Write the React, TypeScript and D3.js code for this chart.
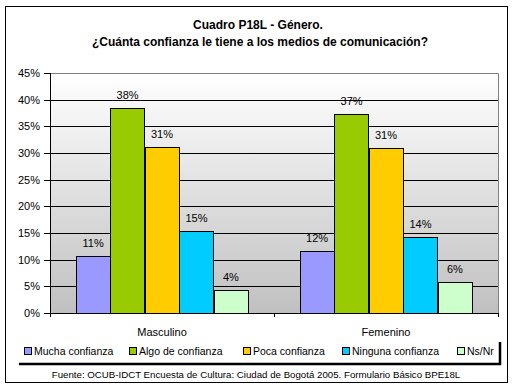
import * as d3 from "d3";

const categories = ["Masculino", "Femenino"];
const seriesNames = [
  "Mucha confianza",
  "Algo de confianza",
  "Poca confianza",
  "Ninguna confianza",
  "Ns/Nr",
];
// one array per series: [Masculino, Femenino]
const mucha = [0.107, 0.116];
const algo = [0.384, 0.374];
const poca = [0.312, 0.309];
const ninguna = [0.153, 0.142];
const nsnr = [0.043, 0.059];
const yTicks = [0, 0.05, 0.1, 0.15, 0.2, 0.25, 0.3, 0.35, 0.4, 0.45];

const seriesValues = [mucha, algo, poca, ninguna, nsnr];
const colors = ["#9999ff", "#99cc00", "#ffcc00", "#00ccff", "#ccffcc"];

const W = 515;
const H = 391;
const plot = { left: 50, right: 498, top: 73, bottom: 313 };
const FONT = "'Liberation Sans', Arial, sans-serif";

const App = () => {
  const x0 = d3
    .scaleBand()
    .domain(categories)
    .range([plot.left, plot.right]);
  // gap width 150% of a bar -> 6.5 bar units per category
  const inner = x0.bandwidth() * (5 / 6.5);
  const x1 = d3
    .scaleBand()
    .domain(seriesNames)
    .range([0, inner])
    .padding(0);
  const y = d3.scaleLinear().domain([0, 0.45]).range([plot.bottom, plot.top]);
  const pct = d3.format(".0%");

  const legendX = [24, 129, 243, 342, 457];

  return (
    <svg
      width={W}
      height={H}
      style={{ position: "absolute", left: 0, top: 0, fontFamily: FONT }}
    >
      <defs>
        <linearGradient id="bg" x1="0" y1="0" x2="0" y2="1">
          <stop offset="0%" stopColor="#ffffff" />
          <stop offset="100%" stopColor="#c0c0c0" />
        </linearGradient>
      </defs>
      <rect x={0} y={0} width={W} height={H} fill="#fff" />
      <rect x={5.5} y={6.5} width={502} height={376} fill="#fff" stroke="#000" />

      <text x={258} y={29} textAnchor="middle" fontSize={12} fontWeight="bold">
        Cuadro P18L - Género.
      </text>
      <text x={260} y={46} textAnchor="middle" fontSize={12} fontWeight="bold">
        ¿Cuánta confianza le tiene a los medios de comunicación?
      </text>

      {/* plot area */}
      <rect
        x={plot.left}
        y={plot.top}
        width={plot.right - plot.left}
        height={plot.bottom - plot.top}
        fill="url(#bg)"
      />
      <path
        d={`M${plot.left},${plot.top + 0.5}H${plot.right + 0.5}V${plot.bottom}`}
        fill="none"
        stroke="#808080"
      />
      {yTicks.slice(1, -1).map((t) => (
        <line
          key={t}
          x1={plot.left}
          x2={plot.right}
          y1={Math.round(y(t)) + 0.5}
          y2={Math.round(y(t)) + 0.5}
          stroke="#000"
        />
      ))}

      {seriesValues.map((vals, si) =>
        categories.map((c, ci) => {
          const bx = (x0(c) ?? 0) + (x0.bandwidth() - inner) / 2 + (x1(seriesNames[si]) ?? 0);
          const top = y(vals[ci]);
          return (
            <g key={`${si}-${ci}`}>
              <rect
                x={Math.round(bx) + 0.5}
                y={Math.round(top) + 0.5}
                width={Math.round(x1.bandwidth())}
                height={Math.round(plot.bottom - top)}
                fill={colors[si]}
                stroke="#000"
              />
              <text
                x={bx + x1.bandwidth() / 2}
                y={top - 9}
                textAnchor="middle"
                fontSize={11}
              >
                {pct(vals[ci])}
              </text>
            </g>
          );
        })
      )}

      {/* axes */}
      <line x1={plot.left + 0.5} x2={plot.left + 0.5} y1={plot.top} y2={plot.bottom + 4} stroke="#000" />
      <line x1={plot.left} x2={plot.right + 1} y1={plot.bottom + 0.5} y2={plot.bottom + 0.5} stroke="#000" />
      {yTicks.map((t) => (
        <g key={t}>
          <line
            x1={plot.left - 6}
            x2={plot.left}
            y1={Math.round(y(t)) + 0.5}
            y2={Math.round(y(t)) + 0.5}
            stroke="#000"
          />
          <text x={40} y={y(t) + 4} textAnchor="end" fontSize={11}>
            {pct(t)}
          </text>
        </g>
      ))}
      {[plot.left, plot.left + x0.bandwidth(), plot.right].map((px) => (
        <line
          key={px}
          x1={Math.round(px) + 0.5}
          x2={Math.round(px) + 0.5}
          y1={plot.bottom}
          y2={plot.bottom + 4}
          stroke="#000"
        />
      ))}
      {categories.map((c) => (
        <text
          key={c}
          x={(x0(c) ?? 0) + x0.bandwidth() / 2}
          y={336}
          textAnchor="middle"
          fontSize={11}
        >
          {c}
        </text>
      ))}

      {/* legend with shadow */}
      <path d="M500,342V364H19" fill="none" stroke="#000" strokeWidth={2.5} />
      {seriesNames.map((s, i) => (
        <g key={s}>
          <rect x={legendX[i] + 0.5} y={347.5} width={7} height={7} fill={colors[i]} stroke="#000" />
          <text x={legendX[i] + 10} y={355} fontSize={10.5}>
            {s}
          </text>
        </g>
      ))}

      <text x={256} y={378} textAnchor="middle" fontSize={9.7}>
        Fuente: OCUB-IDCT Encuesta de Cultura: Ciudad de Bogotá 2005. Formulario Básico BPE18L
      </text>
    </svg>
  );
};

export default App;
